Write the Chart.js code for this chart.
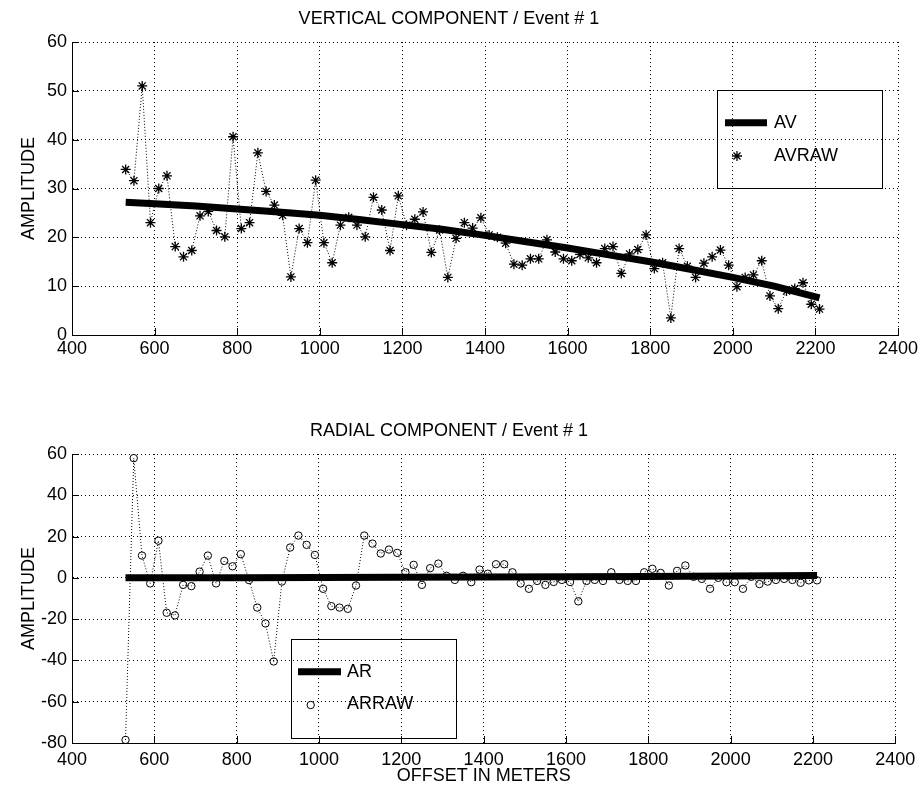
<!DOCTYPE html>
<html>
<head>
<meta charset="utf-8">
<script src="https://cdn.jsdelivr.net/npm/chart.js@4.4.1/dist/chart.umd.min.js"></script>
<style>
  body { margin: 0; background: #fff; }
  #wrap { position: relative; width: 922px; height: 791px; }
  canvas { position: absolute; left: 0; }
  #vert { top: 0; }
  #rad { top: 395px; }
</style>
</head>
<body>
<div id="wrap">
  <canvas id="vert" width="922" height="380"></canvas>
  <canvas id="rad" width="922" height="396"></canvas>
</div>
<script>
// offsets (m) of the receivers
const offsets = [
  530, 550, 570, 590, 610, 630, 650, 670, 690, 710, 730, 750, 770, 790, 810, 830, 850, 870, 890, 910,
  930, 950, 970, 990, 1010, 1030, 1050, 1070, 1090, 1110, 1130, 1150, 1170, 1190, 1210, 1230, 1250, 1270, 1290, 1310,
  1330, 1350, 1370, 1390, 1410, 1430, 1450, 1470, 1490, 1510, 1530, 1550, 1570, 1590, 1610, 1630, 1650, 1670, 1690, 1710,
  1730, 1750, 1770, 1790, 1810, 1830, 1850, 1870, 1890, 1910, 1930, 1950, 1970, 1990, 2010, 2030, 2050, 2070, 2090, 2110,
  2130, 2150, 2170, 2190, 2210
];

// vertical raw amplitudes
const avRaw = [
  33.9, 31.6, 51, 23, 30, 32.6, 18.1, 16, 17.3, 24.4, 25.3, 21.4, 20.1, 40.6, 21.8, 23, 37.3, 29.4, 26.6, 24.5,
  11.9, 21.8, 18.9, 31.7, 18.9, 14.8, 22.5, 24.1, 22.5, 20.1, 28.2, 25.6, 17.3, 28.5, 22.5, 23.7, 25.2, 16.9, 21.5, 11.8,
  19.8, 23, 21.9, 24, 20.5, 20, 18.8, 14.5, 14.3, 15.6, 15.6, 19.5, 17, 15.6, 15.2, 16.5, 15.8, 14.8, 17.7, 18.1,
  12.6, 16.6, 17.5, 20.5, 13.6, 14.8, 3.5, 17.7, 14.1, 11.8, 14.7, 16, 17.4, 14.3, 9.9, 11.8, 12.3, 15.2, 8, 5.4,
  9, 9.5, 10.7, 6.3, 5.3
];

// radial raw amplitudes
const arRaw = [
  -78.5, 58, 10.8, -2.7, 18, -16.9, -18.2, -3.4, -4, 3, 10.8, -2.7, 8.2, 5.6, 11.5, -1.1, -14.4, -22.1, -40.5, -1.8,
  14.7, 20.5, 16, 11.1, -5.3, -13.7, -14.4, -15, -3.7, 20.5, 16.6, 11.8, 13.7, 12.1, 2.7, 6.3, -3.4, 4.7, 6.9, 1,
  -1, 1, -2.1, 4, 2, 6.6, 6.6, 2.7, -2.7, -5.3, -1.5, -3.4, -2, -1, -2, -11.4, -1.5, -1, -1.5, 2.7,
  -1, -1.5, -1.5, 2.7, 4.4, 2.4, -3.7, 3.4, 6, 0.5, -0.5, -5.3, 0, -2.1, -2.1, -5.3, 0.5, -3, -1.8, -1,
  -0.5, -1, -2.4, -1.2, -1.2
];

// smoothed curves
const avFitX = [530, 600, 700, 800, 900, 1000, 1100, 1200, 1300, 1400, 1500, 1600, 1700, 1800, 1900, 2000, 2100, 2210];
const avFitY = [27.2, 26.9, 26.4, 25.8, 25.2, 24.5, 23.6, 22.6, 21.6, 20.4, 19.1, 17.8, 16.4, 15.0, 13.4, 11.8, 10.0, 7.6];
const arFitX = [530, 800, 1000, 1200, 1400, 1600, 1800, 2000, 2210];
const arFitY = [0, 0.1, 0.2, 0.3, 0.4, 0.5, 0.7, 0.9, 1.1];

const xTicks = { min: 400, max: 2400, step: 200 };

Chart.defaults.font.family = "'Liberation Sans', Arial, sans-serif";
Chart.defaults.font.size = 18;
Chart.defaults.color = '#000';

const pts = (xs, ys) => xs.map((x, i) => ({ x: x, y: ys[i] }));

// MATLAB style ticks pointing into the axes
const innerTicks = {
  id: 'innerTicks',
  afterDraw(chart) {
    const { ctx, chartArea: a, scales: { x, y } } = chart;
    ctx.save();
    ctx.strokeStyle = '#000';
    ctx.lineWidth = 1;
    ctx.beginPath();
    x.ticks.forEach(t => {
      const px = Math.round(x.getPixelForValue(t.value)) + 0.5;
      ctx.moveTo(px, a.bottom);
      ctx.lineTo(px, a.bottom - 7);
    });
    y.ticks.forEach(t => {
      const py = Math.round(y.getPixelForValue(t.value)) + 0.5;
      ctx.moveTo(a.left, py);
      ctx.lineTo(a.left + 7, py);
    });
    ctx.stroke();
    ctx.restore();
  }
};

// boxed legend sitting inside the plot
const boxLegend = {
  id: 'boxLegend',
  afterDraw(chart, args, opts) {
    const ctx = chart.ctx;
    const b = opts.box;
    ctx.save();
    ctx.strokeStyle = '#000';
    ctx.fillStyle = '#000';
    ctx.lineWidth = 1;
    ctx.strokeRect(b[0] + 0.5, b[1] + 0.5, b[2] - b[0], b[3] - b[1]);
    ctx.font = "18px 'Liberation Sans', Arial, sans-serif";
    ctx.textBaseline = 'middle';
    opts.items.forEach(it => {
      const ds = chart.data.datasets[it.index];
      if (it.kind === 'line') {
        ctx.save();
        ctx.lineWidth = ds.borderWidth;
        ctx.beginPath();
        ctx.moveTo(it.x1, it.y);
        ctx.lineTo(it.x2, it.y);
        ctx.stroke();
        ctx.restore();
      } else {
        ctx.save();
        ctx.fillStyle = 'rgba(0,0,0,0)';
        ctx.strokeStyle = '#000';
        ctx.lineWidth = ds.pointBorderWidth;
        Chart.helpers.drawPoint(ctx, {
          pointStyle: ds.pointStyle, radius: ds.pointRadius, borderWidth: ds.pointBorderWidth, rotation: 0
        }, it.x1, it.y);
        ctx.restore();
      }
      ctx.fillText(ds.label, it.tx, it.ty);
    });
    ctx.restore();
  }
};

function axes(yMin, yMax, yStep, xHeight, tickPad, xTitle) {
  return {
    x: {
      type: 'linear', min: xTicks.min, max: xTicks.max,
      ticks: { stepSize: xTicks.step, padding: tickPad, maxRotation: 0, autoSkip: false, callback: v => String(v) },
      grid: { color: '#000', lineWidth: 1, drawTicks: false },
      border: { display: true, color: '#000', width: 1, dash: [1, 3] },
      title: xTitle ? { display: true, text: xTitle, padding: { top: 0, bottom: 3.7 } } : { display: false },
      afterFit: s => { s.height = xHeight; }
    },
    y: {
      type: 'linear', min: yMin, max: yMax,
      ticks: { stepSize: yStep, padding: 5, callback: v => String(v) },
      grid: { color: '#000', lineWidth: 1, drawTicks: false },
      border: { display: true, color: '#000', width: 1, dash: [1, 3] },
      title: { display: true, text: 'AMPLITUDE', padding: { top: 18.5, bottom: 0 } },
      afterFit: s => { s.width = 72; }
    }
  };
}

new Chart(document.getElementById('vert'), {
  type: 'line',
  data: {
    datasets: [
      {
        label: 'AV', data: pts(avFitX, avFitY),
        borderColor: '#000', borderWidth: 7, pointRadius: 0, tension: 0, borderCapStyle: 'butt'
      },
      {
        label: 'AVRAW', data: pts(offsets, avRaw),
        borderColor: '#000', borderWidth: 1, borderDash: [1, 2],
        pointStyle: 'star', pointRadius: 5, pointBorderWidth: 1.3,
        pointBorderColor: '#000', pointBackgroundColor: '#000', tension: 0
      }
    ]
  },
  options: {
    responsive: false,
    animation: false,
    layout: { padding: { left: 0, right: 24, top: 0, bottom: 0 } },
    scales: axes(0, 60, 10, 45, 3, null),
    plugins: {
      legend: { display: false },
      tooltip: { enabled: false },
      title: {
        display: true, text: 'VERTICAL COMPONENT / Event # 1',
        font: { size: 18, weight: 'normal' }, padding: { top: 8, bottom: 12.4 }
      },
      boxLegend: {
        box: [717, 90, 882, 188],
        items: [
          { index: 0, kind: 'line', x1: 725, x2: 767, y: 122.7, tx: 774, ty: 123 },
          { index: 1, kind: 'point', x1: 737, y: 156, tx: 774, ty: 156 }
        ]
      }
    }
  },
  plugins: [innerTicks, boxLegend]
});

new Chart(document.getElementById('rad'), {
  type: 'line',
  data: {
    datasets: [
      {
        label: 'AR', data: pts(arFitX, arFitY),
        borderColor: '#000', borderWidth: 7, pointRadius: 0, tension: 0, borderCapStyle: 'butt'
      },
      {
        label: 'ARRAW', data: pts(offsets, arRaw),
        borderColor: '#000', borderWidth: 1, borderDash: [1, 2],
        pointStyle: 'circle', pointRadius: 3.7, pointBorderWidth: 1,
        pointBorderColor: '#000', pointBackgroundColor: 'rgba(0,0,0,0)', tension: 0
      }
    ]
  },
  options: {
    responsive: false,
    animation: false,
    layout: { padding: { left: 0, right: 24, top: 0, bottom: 0 } },
    scales: axes(-80, 60, 20, 48, 6.7, 'OFFSET IN METERS'),
    plugins: {
      legend: { display: false },
      tooltip: { enabled: false },
      title: {
        display: true, text: 'RADIAL COMPONENT / Event # 1',
        font: { size: 18, weight: 'normal' }, padding: { top: 25.2, bottom: 12.2 }
      },
      boxLegend: {
        box: [291, 244, 456, 343],
        items: [
          { index: 0, kind: 'line', x1: 298, x2: 341, y: 276.7, tx: 347, ty: 277.5 },
          { index: 1, kind: 'point', x1: 310.7, y: 310, tx: 347, ty: 309 }
        ]
      }
    }
  },
  plugins: [innerTicks, boxLegend]
});
</script>
</body>
</html>
